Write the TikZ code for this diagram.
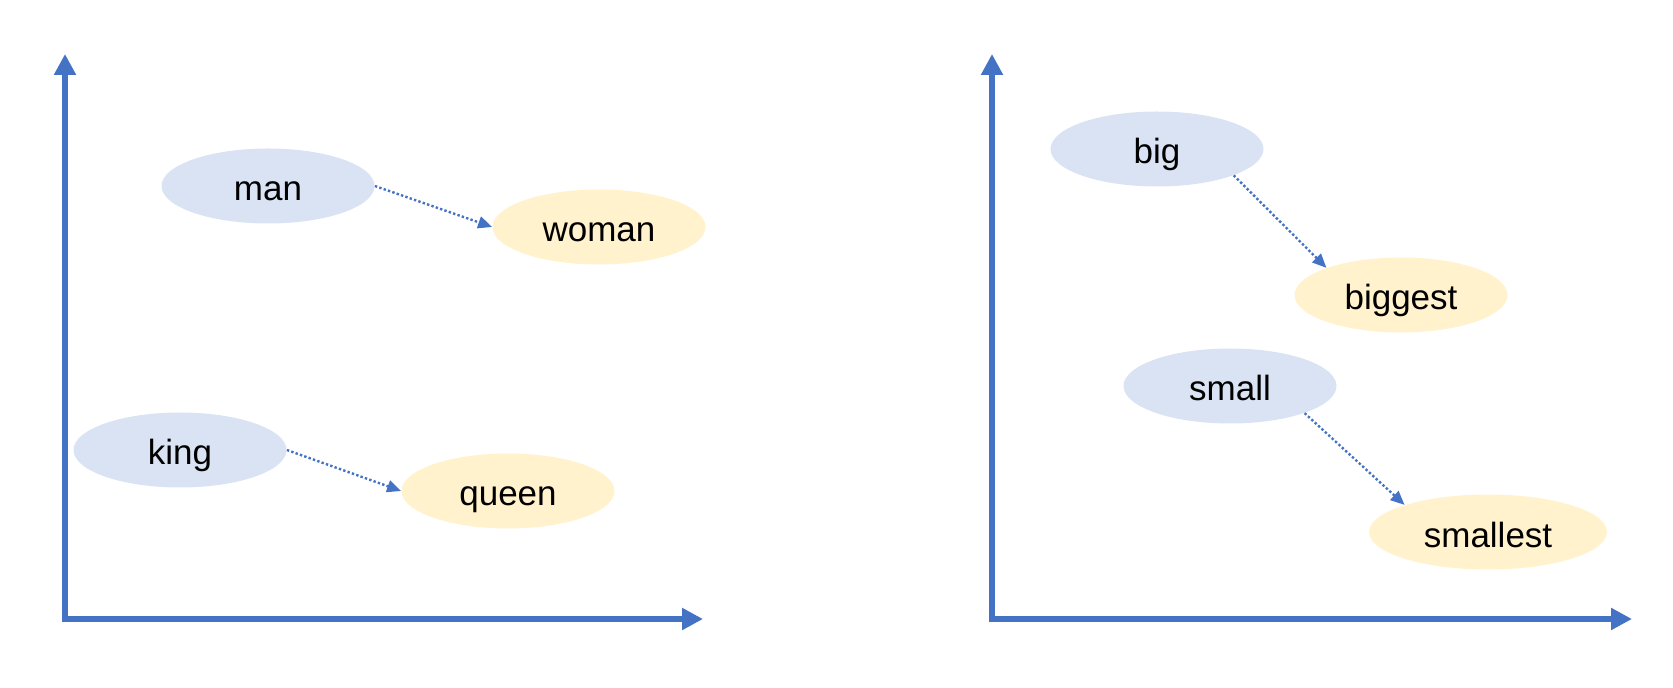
\documentclass[tikz,border=0pt]{standalone}
\usepackage{fontspec}
\setmainfont{Liberation Sans}
\usetikzlibrary{arrows.meta,shapes.geometric}
\definecolor{axisblue}{HTML}{4472C4}
\definecolor{wblue}{HTML}{DAE3F3}
\definecolor{wyellow}{HTML}{FFF2CC}
\begin{document}
\begin{tikzpicture}[x=0.5pt,y=-0.5pt,
  word/.style={ellipse, minimum width=106.5pt, minimum height=37.5pt, inner sep=0pt,
    text height=16pt, text depth=1pt, font=\fontsize{17.5}{20}\selectfont},
  basew/.style={word, fill=wblue},
  targetw/.style={word, fill=wyellow},
  axis/.style={axisblue, line width=2.6pt,
    {Triangle[length=10.5pt,width=10.5pt]}-{Triangle[length=10.5pt,width=10.5pt]}},
  link/.style={axisblue, line width=1.2pt, dash pattern=on 1.2pt off 1.1pt,
    -{Triangle[length=7pt,width=6pt]}}]
\useasboundingbox (0,0) rectangle (1673,688);
% axes
\coordinate (o1) at (65,619);
\coordinate (y1) at (65,54);
\coordinate (x1) at (703,619);
\coordinate (o2) at (992,619);
\coordinate (y2) at (992,54);
\coordinate (x2) at (1632,619);
\draw[axis] (y1) -- (o1) -- (x1);
\draw[axis] (y2) -- (o2) -- (x2);
% left panel
\node[basew] (man) at (268,186) {man};
\node[targetw] (woman) at (599,227) {woman};
\node[basew] (king) at (180,450) {king};
\node[targetw] (queen) at (508,491) {queen};
\draw[link] (man.east) -- (woman.west);
\draw[link] (king.east) -- (queen.west);
% right panel
\node[basew] (big) at (1157,149) {big};
\node[targetw] (biggest) at (1401,295) {biggest};
\node[basew] (small) at (1230,386) {small};
\node[targetw, minimum width=119pt] (smallest) at (1488,532) {smallest};
\draw[link] (big.-19) -- (biggest.160);
\draw[link] (small.-20) -- (smallest.162);
\end{tikzpicture}
\end{document}
